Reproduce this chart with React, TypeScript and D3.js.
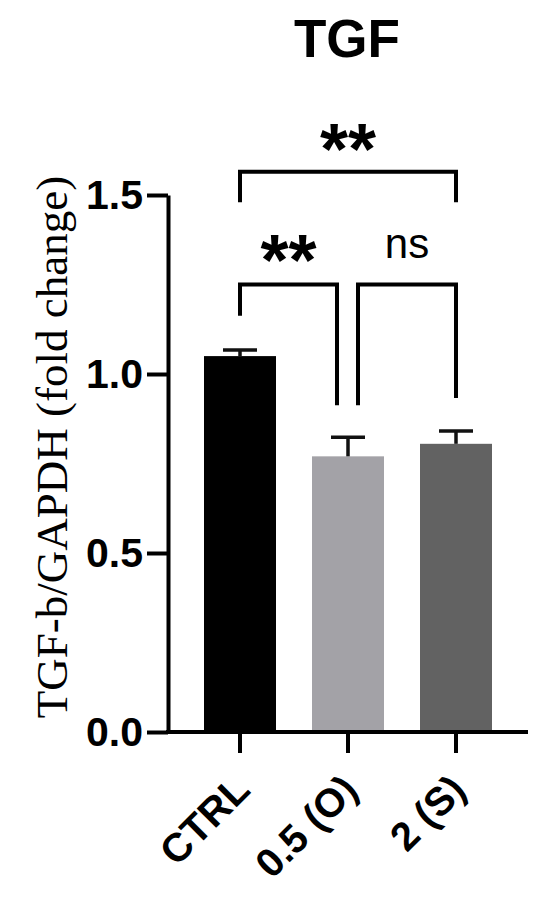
import React, { useRef, useEffect } from 'react';
import * as d3 from 'd3';

const categories = ['CTRL', '0.5 (O)', '2 (S)'];
const means = [1.05, 0.77, 0.805];
const errors = [0.017, 0.053, 0.036];
const barColors = ['#000000', '#a3a2a7', '#626262'];
const yTicks = [0.0, 0.5, 1.0, 1.5];

// significance brackets: from group, to group, bar height, leg ends, label
const comparisons = [
  { from: 0, to: 2, y: 1.565, legFrom: 1.48, legTo: 1.48, label: '**' },
  { from: 0, to: 1, y: 1.25, legFrom: 1.163, legTo: 0.913, label: '**' },
  { from: 1, to: 2, y: 1.25, legFrom: 0.913, legTo: 0.933, label: 'ns' },
];

const W = 550;
const H = 897;

const App = () => {
  const ref = useRef<SVGSVGElement>(null);

  useEffect(() => {
    document.body.style.margin = '0';
    const svg = d3.select(ref.current);
    svg.selectAll('*').remove();

    const y = d3.scaleLinear().domain([0, 1.5]).range([732, 195]);
    const x = d3.scaleBand().domain(categories).range([186, 510])
      .paddingInner(1 / 3).paddingOuter(1 / 6);
    const cx = (i: number) => x(categories[i])! + x.bandwidth() / 2;
    const sans = 'Arial, "Liberation Sans", sans-serif';

    // title
    svg.append('text')
      .attr('x', 347).attr('y', 57)
      .attr('text-anchor', 'middle')
      .style('font-family', sans).style('font-weight', 'bold').style('font-size', '53px')
      .text('TGF');

    // bars
    svg.selectAll('rect.bar')
      .data(means)
      .enter()
      .append('rect')
      .attr('class', 'bar')
      .attr('x', (d, i) => x(categories[i])!)
      .attr('width', x.bandwidth())
      .attr('y', d => y(d))
      .attr('height', d => y(0) - y(d))
      .attr('fill', (d, i) => barColors[i]);

    // error bars (upper only)
    const eb = svg.append('g').attr('stroke', '#111').attr('stroke-width', 3.5);
    means.forEach((m, i) => {
      eb.append('line').attr('x1', cx(i)).attr('x2', cx(i)).attr('y1', y(m)).attr('y2', y(m + errors[i]));
      eb.append('line').attr('x1', cx(i) - 17).attr('x2', cx(i) + 17)
        .attr('y1', y(m + errors[i])).attr('y2', y(m + errors[i]));
    });

    // y axis
    const yAxis = svg.append('g').attr('transform', 'translate(168,0)')
      .call(d3.axisLeft(y).tickValues(yTicks).tickFormat(d3.format('.1f')).tickSize(21).tickSizeOuter(0));
    yAxis.select('.domain').attr('stroke', '#000').attr('stroke-width', 4);
    yAxis.selectAll('.tick line').attr('stroke', '#000').attr('stroke-width', 4);
    yAxis.selectAll('.tick text')
      .attr('x', -25)
      .style('font-family', sans).style('font-weight', 'bold').style('font-size', '41px').attr('fill', '#000');

    // x axis
    const xAxis = svg.append('g').attr('transform', `translate(0,${y(0)})`);
    xAxis.append('line').attr('x1', 166).attr('x2', 528).attr('y1', 0).attr('y2', 0)
      .attr('stroke', '#000').attr('stroke-width', 4);
    categories.forEach((c, i) => {
      xAxis.append('line').attr('x1', cx(i)).attr('x2', cx(i)).attr('y1', 0).attr('y2', 21)
        .attr('stroke', '#000').attr('stroke-width', 4);
      xAxis.append('text')
        .attr('transform', `translate(${cx(i) + 12},${60}) rotate(-45)`)
        .attr('text-anchor', 'end')
        .style('font-family', sans).style('font-weight', 'bold').style('font-size', '40px')
        .text(c);
    });

    // y label
    svg.append('text')
      .attr('transform', 'translate(67,447) rotate(-90)')
      .attr('text-anchor', 'middle')
      .style('font-family', '"Times New Roman", "Liberation Serif", serif').style('font-size', '45px')
      .text('TGF-b/GAPDH (fold change)');

    // brackets
    const br = svg.append('g');
    comparisons.forEach((c, k) => {
      let x1 = cx(c.from);
      let x2 = cx(c.to);
      if (k === 1) x2 -= 11;
      if (k === 2) x1 += 10;
      const path = d3.path();
      path.moveTo(x1, y(c.legFrom));
      path.lineTo(x1, y(c.y));
      path.lineTo(x2, y(c.y));
      path.lineTo(x2, y(c.legTo));
      br.append('path').attr('d', path.toString())
        .attr('fill', 'none').attr('stroke', '#000').attr('stroke-width', 4);
      const mid = (x1 + x2) / 2;
      if (c.label === 'ns') {
        br.append('text').attr('x', mid).attr('y', y(c.y) - 27)
          .attr('text-anchor', 'middle')
          .style('font-family', sans).style('font-size', '42px')
          .text(c.label);
      } else {
        br.append('text').attr('x', mid).attr('y', y(c.y) + (k === 0 ? 2 : 0))
          .attr('text-anchor', 'middle')
          .style('font-family', sans).style('font-weight', 'bold').style('font-size', '72px')
          .text(c.label);
      }
    });
  }, []);

  return <svg ref={ref} width={W} height={H} style={{ display: 'block', background: '#fff' }}></svg>;
};

export default App;
